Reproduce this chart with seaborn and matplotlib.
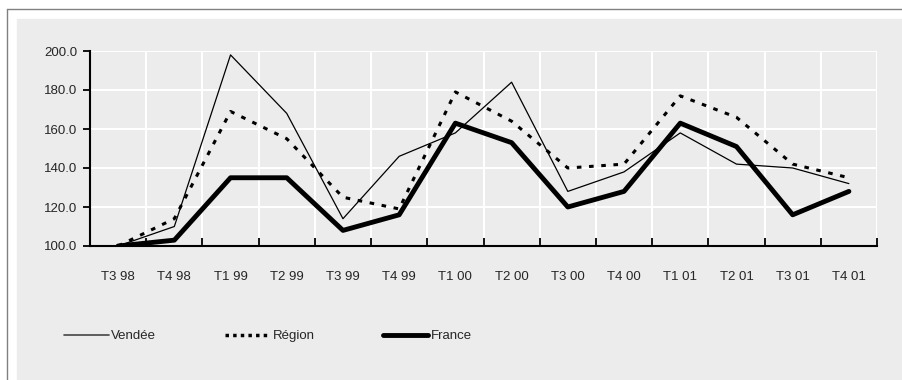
import matplotlib
matplotlib.use("Agg")
import matplotlib.pyplot as plt
import matplotlib.lines as mlines
import matplotlib.patches as mpatches
import numpy as np
import pandas as pd
import seaborn as sns

# trimestres
trimestres = ['T3 98', 'T4 98', 'T1 99', 'T2 99', 'T3 99', 'T4 99', 'T1 00',
              'T2 00', 'T3 00', 'T4 00', 'T1 01', 'T2 01', 'T3 01', 'T4 01']
vendee = [100, 110, 198, 168, 114, 146, 158, 184, 128, 138, 158, 142, 140, 132]
region = [100, 114, 169, 155, 125, 119, 179, 164, 140, 142, 177, 166, 142, 135]
france = [100, 103, 135, 135, 108, 116, 163, 153, 120, 128, 163, 151, 116, 128]
yticks = [100, 120, 140, 160, 180, 200]

sns.set_style('white')
plt.rcParams['font.family'] = ['Liberation Sans Narrow', 'Liberation Sans', 'DejaVu Sans']

panel = '#ececec'
fig = plt.figure(figsize=(9.02, 3.8), dpi=100)
fig.patch.set_facecolor('white')

# grey panel + thin frame
fig.patches.append(mpatches.Rectangle((17 / 902, 0), 1, (380 - 19) / 380,
                                      transform=fig.transFigure, color=panel, zorder=-5))
fig.lines.append(mlines.Line2D([7 / 902, 1], [1 - 9 / 380, 1 - 9 / 380],
                               transform=fig.transFigure, color='#808080', lw=1, zorder=-5))
fig.lines.append(mlines.Line2D([7 / 902, 7 / 902], [0, 1 - 9 / 380],
                               transform=fig.transFigure, color='#808080', lw=1, zorder=-5))

ax = fig.add_axes([90 / 902, 1 - 246 / 380, (877 - 90) / 902, (246 - 51) / 380])
ax.set_zorder(2)
ax.set_facecolor(panel)

df = pd.DataFrame({'trimestre': trimestres, 'Vendée': vendee,
                   'Région': region, 'France': france})
x = np.arange(len(trimestres))

sns.lineplot(x=x, y=df['Vendée'], ax=ax, color='black', lw=0.9, label='Vendée', zorder=3)
sns.lineplot(x=x, y=df['Région'], ax=ax, color='black', lw=2.2,
             linestyle=(0, (1.5, 2.5)), label='Région', zorder=3)
sns.lineplot(x=x, y=df['France'], ax=ax, color='black', lw=3.5, label='France', zorder=4)

ax.set_xlim(-0.5, len(trimestres) - 0.5)
ax.set_ylim(100, 200)
ax.set_xticks(x)
ax.set_xticklabels(trimestres)
ax.set_xticks(np.arange(-0.5, len(trimestres)), minor=True)
ax.set_yticks(yticks)
ax.set_yticklabels([f'{v:.1f}' for v in yticks])
ax.set_xlabel('')
ax.set_ylabel('')

ax.grid(False)
ax.grid(True, axis='y', which='major', color='white', lw=1.5, zorder=1)
ax.grid(True, axis='x', which='minor', color='white', lw=1.5, zorder=1)
ax.set_axisbelow(True)

ax.tick_params(axis='x', which='major', bottom=True, length=0, pad=18, labelsize=9.5)
ax.tick_params(axis='x', which='minor', bottom=True, direction='in', length=6,
               width=1.3, color='black')
ax.tick_params(axis='y', which='major', left=True, direction='out', length=5, width=1.3,
               color='black', labelsize=9.5, pad=4)
ax.tick_params(axis='y', which='minor', length=0)

for s in ['top', 'right']:
    ax.spines[s].set_visible(False)
for s in ['left', 'bottom']:
    ax.spines[s].set_color('black')
    ax.spines[s].set_linewidth(1.5)
    ax.spines[s].set_zorder(5)

ax.get_legend().remove()
handles = [mlines.Line2D([], [], color='#444444', lw=1.2),
           mlines.Line2D([], [], color='black', lw=2.5, linestyle=(0, (1, 1.2))),
           mlines.Line2D([], [], color='black', lw=3.5)]
fig.legend(handles, ['Vendée', 'Région', 'France'], loc='center left',
           bbox_to_anchor=(52 / 902, 1 - 336 / 380), ncol=3, frameon=False,
           handlelength=3.4, handletextpad=0.2, columnspacing=5.2, fontsize=9.5)

fig.savefig('out.png', dpi=100, facecolor=fig.get_facecolor())
